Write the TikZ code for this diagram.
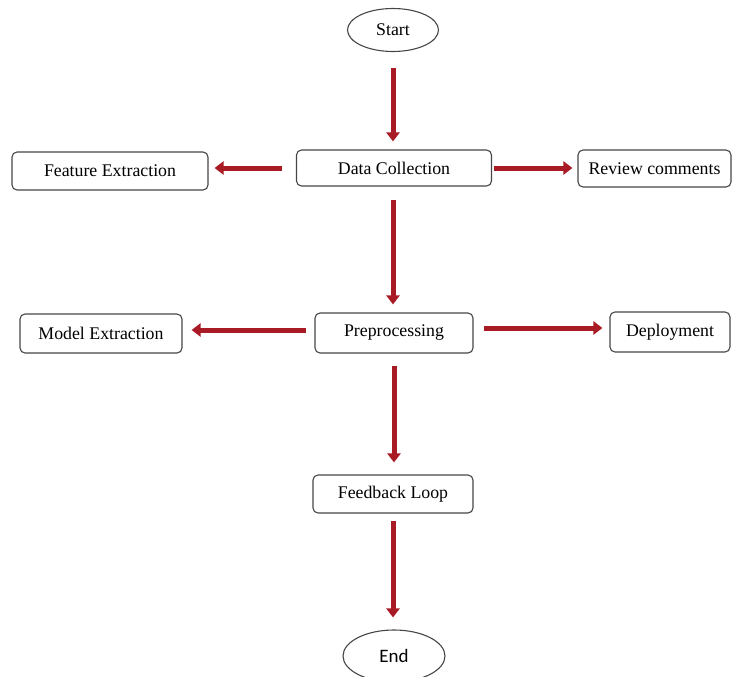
\documentclass[tikz,border=0pt]{standalone}
\usepackage{fontspec}
\setmainfont{Liberation Serif}
\newfontfamily\endfont{Carlito}
\usetikzlibrary{arrows.meta,shapes.geometric}
\definecolor{arrred}{RGB}{168,26,36}
\definecolor{boxline}{RGB}{70,70,70}
\begin{document}
\begin{tikzpicture}[x=1pt,y=-1pt,
  box/.style={draw=boxline,line width=1.1pt,rounded corners=5pt,fill=white,inner sep=0pt,font=\fontsize{17.8}{20}\selectfont},
  oval/.style={ellipse,draw=boxline,line width=1.1pt,inner sep=0pt},
  arr/.style={draw=arrred,line width=5pt,-{Triangle[width=13pt,length=9pt]}}]
\useasboundingbox (0,0) rectangle (732,677);
\node[oval,minimum width=91pt,minimum height=43pt,font=\fontsize{17.8}{20}\selectfont] (start) at (393,30) {Start};
\node[box,minimum width=195pt,minimum height=36pt] (data) at (394,168) {Data Collection};
\node[box,minimum width=196pt,minimum height=38pt] (feat) at (110,171) {Feature Extraction};
\node[box,minimum width=153pt,minimum height=37pt] (review) at (654.5,168.5) {Review comments};
\node[box,minimum width=158pt,minimum height=40pt] (pre) at (394,333) {Preprocessing};
\node[box,minimum width=162pt,minimum height=39pt] (model) at (101,333.5) {Model Extraction};
\node[box,minimum width=120pt,minimum height=40pt] (deploy) at (670,332) {Deployment};
\node[box,minimum width=160pt,minimum height=38pt] (fb) at (393,494) {Feedback Loop};
\node[oval,minimum width=102pt,minimum height=52pt,font=\endfont\fontsize{19}{21}\selectfont] (end) at (394,656) {End};
\draw[arr,shorten <=15.5pt,shorten >=8pt] (start.south) -- (start.south |- data.north);
\draw[arr,shorten <=14pt,shorten >=6pt] (data.west) -- (feat.east |- data.west);
\draw[arr,shorten <=2pt,shorten >=5pt] (data.east) -- (review.west |- data.east);
\draw[arr,shorten <=13pt,shorten >=8pt] ([xshift=-1pt]data.south) -- ([xshift=-1pt]data.south |- pre.north);
\draw[arr,shorten <=8pt,shorten >=9pt] ([yshift=3pt]pre.west) -- ([yshift=3pt]model.east |- pre.west);
\draw[arr,shorten <=10pt,shorten >=7pt] ([yshift=5pt]pre.east) -- ([yshift=5pt]deploy.west |- pre.east);
\draw[arr,shorten <=12pt,shorten >=12pt] (pre.south) -- (pre.south |- fb.north);
\draw[arr,shorten <=7pt,shorten >=12pt] (fb.south) -- (fb.south |- end.north);
\end{tikzpicture}
\end{document}
